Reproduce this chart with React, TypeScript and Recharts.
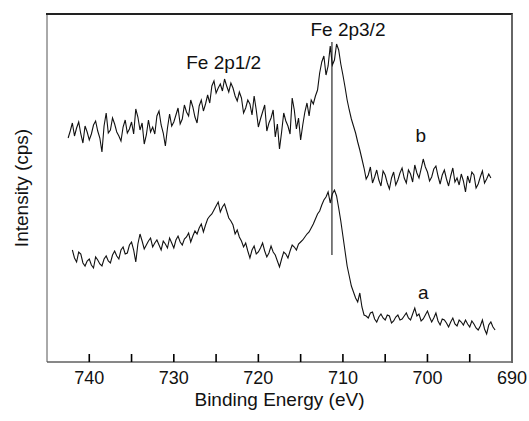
import { LineChart, Line, XAxis, YAxis, ReferenceLine, ReferenceDot } from "recharts";

// XPS Fe 2p spectra, intensity in arbitrary units
const bStart = 742.5;
const aStart = 742.0;
const step = 0.25;

// sample b (upper trace), 742.5 -> 692.5 eV
const spectrumB = [
  224, 231, 239, 226, 234, 240, 228, 219, 236, 230, 222, 228, 237, 241, 231, 224, 210, 236, 249, 229,
  232, 244, 238, 230, 226, 221, 235, 242, 229, 233, 240, 228, 253, 245, 232, 239, 218, 227, 242, 230,
  235, 228, 246, 251, 237, 229, 216, 234, 248, 236, 240, 247, 254, 238, 243, 257, 250, 246, 262, 255,
  245, 239, 256, 262, 251, 258, 267, 259, 276, 281, 269, 274, 278, 271, 283, 276, 270, 279, 274, 266,
  261, 270, 264, 249, 254, 262, 258, 247, 266, 252, 235, 243, 250, 257, 231, 239, 244, 252, 225, 238,
  213, 230, 249, 241, 236, 228, 264, 252, 233, 244, 222, 237, 250, 259, 246, 262, 258, 266, 272, 289,
  300, 306, 287, 296, 316, 297, 302, 318, 312, 298, 287, 275, 262, 252, 243, 236, 229, 220, 212, 203,
  194, 183, 187, 195, 179, 185, 192, 182, 176, 191, 187, 179, 173, 184, 190, 177, 182, 189, 194, 184,
  179, 192, 188, 180, 197, 189, 184, 193, 203, 195, 190, 181, 185, 193, 196, 186, 178, 187, 192, 183,
  176, 186, 194, 180, 184, 177, 188, 181, 170, 186, 179, 190, 187, 174, 178, 185, 191, 179, 183, 188,
  184,
];

// sample a (lower trace), 742.0 -> 692.0 eV
const spectrumA = [
  112, 104, 100, 110, 108, 99, 96, 101, 103, 97, 94, 105, 102, 98, 96, 103, 106, 101, 99, 107,
  111, 106, 103, 112, 115, 108, 109, 117, 120, 112, 100, 118, 128, 121, 113, 117, 121, 124, 115, 119,
  122, 117, 112, 121, 118, 114, 124, 119, 114, 122, 126, 120, 117, 123, 125, 129, 120, 126, 131, 128,
  134, 138, 130, 137, 143, 146, 148, 152, 156, 160, 150, 155, 158, 151, 144, 141, 137, 128, 132, 125,
  121, 115, 119, 111, 104, 112, 116, 108, 110, 114, 119, 111, 105, 109, 116, 110, 107, 101, 95, 103,
  110, 108, 104, 111, 117, 115, 112, 118, 120, 122, 125, 128, 130, 134, 138, 143, 148, 151, 157, 162,
  165, 170, 159, 168, 172, 166, 154, 141, 126, 111, 96, 86, 76, 70, 64, 60, 69, 55, 47, 46,
  44, 49, 50, 43, 40, 45, 48, 44, 42, 47, 46, 39, 41, 45, 47, 42, 43, 46, 49, 44,
  42, 48, 54, 46, 48, 41, 43, 47, 51, 45, 40, 44, 49, 41, 37, 43, 42, 39, 35, 40,
  44, 38, 36, 42, 40, 37, 42, 38, 35, 41, 38, 34, 32, 36, 42, 33, 28, 37, 40, 35,
  32,
];

const xTicks = [740, 735, 730, 725, 720, 715, 710, 705, 700, 695, 690];
const xDomain: [number, number] = [690, 745];
const yDomain: [number, number] = [0, 348];
const peakLine = 711.3;

const annotations = [
  { x: 724.1, y: 300, text: "Fe 2p1/2" },
  { x: 709.4, y: 333, text: "Fe 2p3/2" },
  { x: 700.8, y: 227, text: "b" },
  { x: 700.5, y: 70, text: "a" },
];

const rows: { energy: number; a: number | null; b: number | null }[] = [];
for (let i = 0; i <= spectrumB.length + 1; i++) {
  const energy = bStart - i * step;
  const ai = Math.round((aStart - energy) / step);
  rows.push({
    energy,
    b: i < spectrumB.length ? spectrumB[i] : null,
    a: ai >= 0 && ai < spectrumA.length ? spectrumA[ai] : null,
  });
}

// tick lines point up into the plot (tickSize < 0), labels only every 10 eV
const EnergyTick = (props: any) => {
  const { x, y, payload } = props;
  if (payload.value % 10 !== 0) return <g />;
  return (
    <text x={x} y={y + 30} textAnchor="middle" fontSize={18} fill="#111">
      {payload.value}
    </text>
  );
};

const XTitle = (props: any) => {
  const { viewBox } = props;
  return (
    <text x={viewBox.x + viewBox.width / 2} y={viewBox.y + 44} textAnchor="middle" fontSize={19} fill="#111">
      Binding Energy (eV)
    </text>
  );
};

const YTitle = (props: any) => {
  const { viewBox } = props;
  const cx = viewBox.x + 21;
  const cy = viewBox.y + viewBox.height / 2;
  return (
    <text x={cx} y={cy} transform={`rotate(-90 ${cx} ${cy})`} textAnchor="middle"
      dominantBaseline="central" fontSize={19} fill="#111">
      Intensity (cps)
    </text>
  );
};

export default function App() {
  return (
    <div
      style={{
        position: "absolute", left: 0, top: 0, width: 529, height: 421,
        background: "#fff", fontFamily: "'Liberation Sans', Arial, sans-serif",
      }}
    >
      <LineChart width={529} height={421} data={rows} margin={{ top: 14, right: 17, bottom: 0, left: 0 }}>
        <XAxis
          dataKey="energy"
          type="number"
          domain={xDomain}
          reversed
          ticks={xTicks}
          interval={0}
          height={59}
          tickSize={-8}
          tickMargin={0}
          tick={<EnergyTick />}
          tickLine={{ stroke: "#000", strokeWidth: 1.6 }}
          stroke="#111"
          label={{ content: <XTitle /> }}
        />
        <YAxis type="number" domain={yDomain} width={47} tick={false} tickLine={false}
          stroke="#555" label={{ content: <YTitle /> }} />
        <ReferenceLine
          segment={[{ x: peakLine, y: 107 }, { x: peakLine, y: 320 }]}
          stroke="#555"
          strokeWidth={1.5}
        />
        <Line dataKey="b" stroke="#111" strokeWidth={1.1} dot={false} isAnimationActive={false} />
        <Line dataKey="a" stroke="#111" strokeWidth={1.1} dot={false} isAnimationActive={false} />
        {annotations.map((n) => (
          <ReferenceDot key={n.text} x={n.x} y={n.y} r={0} stroke="none" fill="none"
            label={{ value: n.text, position: "center", fontSize: 19, fill: "#111" }} />
        ))}
      </LineChart>
      {/* top and right edges of the plot frame */}
      <div
        style={{
          position: "absolute", left: 46, top: 13, width: 467, height: 350, boxSizing: "border-box",
          borderTop: "2px solid #222", borderRight: "2px solid #666", pointerEvents: "none",
        }}
      />
    </div>
  );
}
